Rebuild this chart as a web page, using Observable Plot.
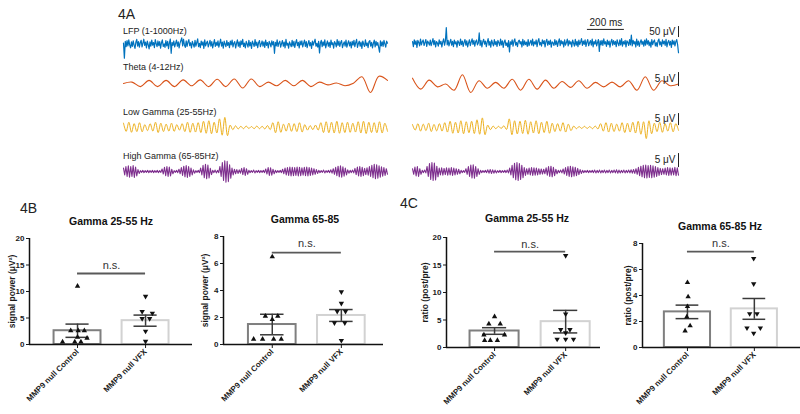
<!DOCTYPE html>
<html><head><meta charset="utf-8">
<script src="https://cdn.jsdelivr.net/npm/d3@7"></script>
<script src="https://cdn.jsdelivr.net/npm/@observablehq/plot@0.6"></script>
<style>
body{margin:0;background:#fff;}
#root{position:relative;width:800px;height:414px;overflow:hidden;font-family:"Liberation Sans",Arial,sans-serif;color:#222;}
.abs{position:absolute;}
.lbl{font-size:9px;white-space:nowrap;transform:translateY(-50%);}
.panel{font-size:14px;transform:translateY(-50%);}
.title{font-size:10.5px;font-weight:bold;color:#111;transform:translate(-50%,-50%);white-space:nowrap;}
</style></head><body><div id="root"></div>
<script>
// ---------- DATA ----------
const traceDurationMs = 1440;
const lfpLeft = [
6,-62,14,-10,18,-6,21,-2,-15,12,-9,17,-3,-18,10,23,-7,13,-12,8,
19,-11,6,24,-4,11,-16,15,-1,-20,12,-8,20,-3,9,-14,22,4,-10,16,
-5,13,-17,8,21,-9,3,-13,18,-6,14,-19,7,25,-40,10,-4,16,-11,5,
20,-8,12,-15,6,18,30,-6,24,-2,-13,17,-9,11,22,-5,8,-16,14,1,
-12,19,-7,9,26,-10,5,-14,16,-3,12,-18,21,-6,7,15,-11,3,19,-8,
13,-15,4,22,-9,10,-5,17,-12,6,24,-7,11,-17,15,2,-10,18,-4,9,
-14,16,-2,20,-11,7,13,-16,5,21,-8,12,-13,17,-1,23,-9,6,-15,14,
3,-12,19,-6,10,-18,15,4,-9,22,-5,11,-14,8,18,-10,2,16,-7,12,
-13,20,-4,9,-16,14,5,-11,17,-2,13,-40,10,-6,21,-9,7,15,-12,4,
18,-8,11,-15,23,-3,6,-17,12,1,-10,19,-7,14,-13,8,22,-5,10,-16,
15,-2,17,-11,6,20,-9,13,-14,4,18,-6,9,-18,16,-3,11,24,-8,5,
-12,14,-38,7,19,-10,12,-5,21,-15,3,16,-8,10,-13,20,-1,8,-17,13,
6,-11,22,-4,15,-9,9,18,-14,2,12,-7,20,-12,5,17,-6,11,-16,14,
-3,19,-10,8,23,-13,4,15,-8,11,-18,16,1,-9,21,-5,7,-14,13,18,
-7,10,-15,5,20,-11,14,-4,9,-13,-35,17,-6,12,-9,19,3,-12,15,6];
const lfpRight = [
9,-14,17,-4,12,-18,14,5,-11,20,-6,8,16,-9,4,18,-13,11,3,-7,
15,-10,6,22,-5,13,-15,9,2,-12,17,-3,10,-16,7,21,-8,12,72,-6,
14,-11,5,19,-7,10,-14,16,-2,8,-17,13,4,-9,20,-5,11,-13,6,18,
-8,12,-15,3,17,-10,7,21,-4,14,-12,9,16,-6,2,48,-9,13,-16,8,
19,-3,11,-14,6,22,-8,10,-17,15,1,-11,18,-5,9,-13,14,4,-10,20,
-6,12,-18,7,16,-9,3,-15,13,-38,8,-4,17,-12,10,21,-7,5,-14,11,
15,-2,9,-16,19,-8,12,-5,6,-13,18,-10,4,14,-7,20,-11,8,-3,16,
-14,10,22,-6,5,-12,17,-1,13,-15,9,19,-8,11,-4,15,-17,7,3,-9,
18,-5,12,-13,6,21,-10,14,-2,9,-16,17,-7,4,20,-11,13,-3,8,-15,
16,2,-12,19,-8,10,-14,15,-5,7,22,-9,11,-4,17,-13,6,18,-10,3,
13,-7,20,-15,9,-3,16,-11,5,18,-36,12,-6,14,-9,21,-2,8,-13,15,
-5,11,-17,7,19,-8,13,-4,10,-14,17,1,-10,16,-6,22,-12,9,-3,14,
-15,12,5,-9,18,-6,38,-11,14,-2,9,-16,20,-7,11,-13,6,17,-4,10,
-12,15,-8,21,-3,13,-10,7,-17,18,-5,9,16,-11,4,-14,12,20,-6,8,
-13,17,-2,11,-9,19,-15,6,14,-7,10,-18,16,-4,12,-11,8,18,-5,-42];
const thetaLeft = [0,0.5,-1.1,1.1,-1.1,1.1,-1.1,1.3,-0.8,1.3,-1.1,1.5,-1.1,1.6,-1.6,1.6,-1.1,0.5,-0.8,1.1,-0.8,1.1,-1.1,0.5,-0.5,0.2,-0.8,0.1,2.4,-3.2,2.6,1.1];
const thetaRight = [1.9,-2.0,1.2,-1.2,-0.2,-2.4,3.1,-3.2,1.0,-1.7,0.4,-1.7,1.5,-2.4,1.5,-2.0,1.2,-1.7,0.7,-1.4,1.0,-1.7,0.4,-1.2,0.5,-1.2,1.0,-2.4,2.4,-2.4,1.0,-0.8,-0.2];
const lowGammaLeft = [1.8,-1.6,2.2,-2.0,1.6,-1.7,2.0,-1.8,1.2,-1.3,1.6,-1.5,2.2,-2.1,1.8,-1.7,1.4,-1.5,1.8,-1.6,1.2,-1.1,1.6,-1.7,2.2,-2.0,1.8,-1.9,2.0,-2.1,2.6,-2.4,2.8,-2.6,2.2,-2.3,3.6,-3.2,4.2,-3.4,1.0,-0.9,0.7,-0.6,0.5,-0.5,0.6,-0.4,0.4,-0.5,0.6,-0.5,0.5,-0.6,0.8,-0.9,2.0,-2.2,2.4,-2.0,1.4,-1.5,1.8,-1.6,1.6,-1.7,2.0,-1.9,1.2,-1.1,0.8,-0.9,1.0,-1.1,2.0,-2.1,2.4,-2.2,2.2,-2.3,2.6,-2.4,2.0,-2.1,2.2,-2.0,1.8,-1.9,2.4,-2.3,2.6,-2.5,2.2,-2.1,2.0,-2.2,2.4,-2.3,1.8,-1.6];
const lowGammaRight = [1.2,-1.1,1.6,-1.5,1.4,-1.3,1.8,-1.7,1.3,-1.4,1.6,-1.5,2.0,-1.9,2.6,-2.4,2.2,-2.3,2.8,-2.6,2.4,-2.2,2.6,-2.5,3.2,-2.8,4.0,-3.0,1.0,-0.9,0.6,-0.5,0.5,-0.4,0.7,-0.8,3.6,-3.0,2.8,-2.7,2.6,-2.5,3.0,-2.8,2.4,-2.3,2.8,-2.6,2.2,-2.1,2.6,-2.4,1.8,-1.7,1.6,-1.5,2.0,-1.9,1.4,-1.3,0.6,-0.5,0.4,-0.4,0.5,-0.4,0.4,-0.5,0.6,-0.6,1.6,-1.5,2.0,-1.9,1.8,-1.7,1.4,-1.5,2.0,-2.1,1.8,-1.9,2.2,-2.3,2.6,-2.8,2.4,-4.6,2.8,-2.6,1.8,-1.7,2.2,-2.0,1.6,-1.5,2.0,-1.8,1.6,-1.2];
const highGammaLeft = [
1.2,-1.2,1.8,-1.8,2.0,-2.0,1.8,-1.8,2.1,-2.1,1.6,-1.6,0.7,-0.7,
0.3,-0.3,0.4,-0.4,0.3,-0.3,0.4,-0.4,0.3,-0.3,0.4,-0.4,0.3,-0.3,0.4,-0.4,0.3,-0.3,
0.9,-0.9,1.5,-1.5,1.8,-1.8,1.6,-1.6,0.8,-0.8,
0.3,-0.3,0.4,-0.4,
0.8,-0.8,1.4,-1.4,1.9,-1.9,2.1,-2.1,1.8,-1.8,1.2,-1.2,0.6,-0.6,
0.3,-0.3,0.4,-0.4,
1.2,-1.2,2.2,-2.2,2.6,-2.6,2.3,-2.3,1.1,-1.1,
0.4,-0.4,0.5,-0.5,0.4,-0.4,
1.8,-1.8,3.2,-3.2,3.8,-3.8,3.6,-3.6,2.4,-2.4,
1.2,-1.2,0.8,-0.8,0.7,-0.7,0.6,-0.6,
1.1,-1.1,1.4,-1.4,1.0,-1.0,
0.4,-0.4,0.3,-0.3,0.5,-0.5,0.3,-0.3,0.4,-0.4,0.3,-0.3,0.4,-0.4,
0.9,-0.9,1.4,-1.4,1.3,-1.3,0.8,-0.8,
0.4,-0.4,0.3,-0.3,0.4,-0.4,
0.8,-0.8,1.2,-1.2,1.4,-1.4,1.6,-1.6,1.5,-1.5,1.4,-1.4,1.6,-1.6,1.5,-1.5,1.3,-1.3,1.5,-1.5,1.6,-1.6,1.4,-1.4,1.2,-1.2,1.0,-1.0,0.7,-0.7,
0.4,-0.4,0.3,-0.3,0.5,-0.5,0.3,-0.3,0.4,-0.4,0.6,-0.6,
1.0,-1.0,1.5,-1.5,1.9,-1.9,2.0,-2.0,1.7,-1.7,1.2,-1.2,0.6,-0.6,
0.4,-0.4,0.5,-0.5,
1.1,-1.1,1.6,-1.6,1.8,-1.8,1.5,-1.5,1.1,-1.1,
1.3,-1.3,1.8,-1.8,2.2,-2.2,2.6,-2.6,2.4,-2.4,2.0,-2.0,1.7,-1.7,1.4,-1.4,1.0,-1.0];
const highGammaRight = [
1.0,-1.0,1.6,-1.6,1.8,-1.8,1.0,-1.0,
0.4,-0.4,0.5,-0.5,
1.8,-1.8,2.8,-2.8,3.2,-3.2,3.0,-3.0,1.9,-1.9,
1.2,-1.2,1.3,-1.3,1.1,-1.1,1.3,-1.3,1.2,-1.2,1.4,-1.4,1.2,-1.2,1.0,-1.0,0.8,-0.8,
0.4,-0.4,0.3,-0.3,
1.0,-1.0,1.8,-1.8,2.3,-2.3,2.4,-2.4,1.8,-1.8,1.0,-1.0,
0.4,-0.4,0.3,-0.3,0.4,-0.4,0.6,-0.6,0.7,-0.7,0.6,-0.6,0.5,-0.5,0.3,-0.3,0.4,-0.4,0.3,-0.3,0.4,-0.4,0.5,-0.5,
1.2,-1.2,2.2,-2.2,2.9,-2.9,3.2,-3.2,2.8,-2.8,2.2,-2.2,1.4,-1.4,
1.0,-1.0,1.2,-1.2,1.4,-1.4,1.3,-1.3,1.2,-1.2,1.0,-1.0,0.9,-0.9,0.8,-0.8,
1.3,-1.3,1.8,-1.8,1.9,-1.9,1.5,-1.5,0.8,-0.8,
0.4,-0.4,0.5,-0.5,
0.9,-0.9,1.4,-1.4,1.8,-1.8,1.9,-1.9,1.7,-1.7,1.5,-1.5,1.1,-1.1,0.7,-0.7,
0.4,-0.4,0.3,-0.3,0.4,-0.4,0.3,-0.3,0.4,-0.4,0.5,-0.5,0.4,-0.4,0.5,-0.5,0.4,-0.4,0.5,-0.5,0.4,-0.4,0.5,-0.5,0.4,-0.4,0.5,-0.5,0.6,-0.6,0.5,-0.5,0.4,-0.4,0.5,-0.5,0.4,-0.4,0.5,-0.5,0.6,-0.6,0.7,-0.7,
1.0,-1.0,1.5,-1.5,1.9,-1.9,2.2,-2.2,2.3,-2.3,2.1,-2.1,2.2,-2.2,2.0,-2.0,1.8,-1.8,1.4,-1.4,1.1,-1.1,
1.0,-1.0,1.2,-1.2,1.4,-1.4,1.3,-1.3,1.2,-1.2,1.5,-1.5,1.3,-1.3];
const traceLabels = ["LFP (1-1000Hz)", "Theta (4-12Hz)", "Low Gamma (25-55Hz)", "High Gamma (65-85Hz)"];
// scale bars (µV / ms)
const lfpBar = [27, 77], thetaBar = [-1.1, 3.9], lowGammaBar = [0.8, 5.8], highGammaBar = [1.4, 6.4];
const timeBar = [947, 1147];

const groups = ["MMP9 null Control", "MMP9 null VFX"];
const b1Mean = [2.6, 4.5], b1Sem = [1.25, 1.05];
const b1Ctrl = [11, 2.6, 2.6, 2.6, 1.4, 1.2, 0.5, 0.5, 0.5], b1CtrlJit = [0, -0.1, 0.01, 0.1, 0, 0.14, -0.22, -0.04, 0.05];
const b1Vfx = [9.1, 6.2, 5.9, 4.9, 4.9, 2.5, 0.6], b1VfxJit = [0, -0.05, 0.1, -0.05, 0.06, 0, 0];
const b2Mean = [1.48, 2.15], b2Sem = [0.76, 0.44];
const b2Ctrl = [6.5, 2.1, 2.1, 1.85, 0.4, 0.4, 0.4, 0.4], b2CtrlJit = [0, -0.1, 0.08, 0, -0.27, -0.14, 0.02, 0.13];
const b2Vfx = [3.9, 3.05, 2.45, 2.45, 1.6, 1.6, 0.3], b2VfxJit = [0, 0, -0.06, 0.06, -0.1, 0.05, 0];
const c1Mean = [3.0, 4.7], c1Sem = [0.6, 2.05];
const c1Ctrl = [5.6, 4.3, 4.3, 2.3, 2.3, 1.3, 1.3, 1.3], c1CtrlJit = [0, -0.08, 0.08, -0.15, 0.14, -0.14, -0.06, 0.04];
const c1Vfx = [16.7, 6.1, 3.25, 3.25, 2.65, 1.5, 1.5, 1.5], c1VfxJit = [0, 0, -0.07, 0.06, 0, -0.12, 0, 0.11];
const c2Mean = [2.74, 2.97], c2Sem = [0.52, 0.8];
const c2Ctrl = [5.0, 3.9, 3.15, 2.35, 1.67, 1.28], c2CtrlJit = [0, 0.01, 0, -0.01, 0.04, -0.035];
const c2Vfx = [6.85, 4.9, 2.6, 2.6, 1.5, 1.5, 1.1], c2VfxJit = [-0.01, -0.01, -0.07, 0.04, -0.11, 0.09, -0.01];
const nsLabel = "n.s.";

// ---------- HELPERS ----------
const root = document.getElementById("root");
const FONT = '"Liberation Sans", Arial, sans-serif';
function place(node, left, top) {
  const d = document.createElement("div");
  d.className = "abs"; d.style.left = left + "px"; d.style.top = top + "px";
  d.appendChild(node); root.appendChild(d); return d;
}
function html(text, cls, left, top) {
  const d = document.createElement("div");
  d.className = "abs " + cls; d.textContent = text;
  d.style.left = left + "px"; d.style.top = top + "px";
  root.appendChild(d);
}
const colors = {lfp: "#0072BD", theta: "#D95319", lg: "#EDB120", hg: "#7E2F8E"};

function trace(values, o) {
  const n = values.length;
  const data = values.map((v, i) => ({t: i * traceDurationMs / (n - 1), v}));
  const yTop = (o.center - o.top) / o.k, yBottom = (o.center - (o.top + o.height)) / o.k;
  const mr = o.marginRight || 0;
  const svg = Plot.plot({
    width: o.width + mr, height: o.height,
    marginTop: 0, marginBottom: 0, marginLeft: 0, marginRight: mr,
    x: {domain: [0, traceDurationMs], axis: null},
    y: {domain: [yBottom, yTop], axis: null},
    style: {background: "transparent", overflow: "visible", fontFamily: FONT, fontSize: "10px"},
    marks: [
      Plot.line(data, {x: "t", y: "v", stroke: o.color, strokeWidth: o.sw || 1, curve: o.curve || "linear"}),
      ...(o.extra || [])
    ]
  });
  place(svg, o.left, o.top);
}
function vBar(bar, label) {
  return [
    Plot.ruleX([traceDurationMs], {y1: bar[0], y2: bar[1], stroke: "#222", strokeWidth: 1}),
    Plot.text([label], {x: traceDurationMs, y: (bar[0] + bar[1]) / 2 + (bar[1] - bar[0]) * 0.05, text: d => d, textAnchor: "end", dx: -3, fill: "#222", fontSize: 10})
  ];
}

const downTriangle = {
  draw(context, size) {
    const y = -Math.sqrt(size / (Math.sqrt(3) * 3));
    context.moveTo(0, -y * 2);
    context.lineTo(-Math.sqrt(3) * y, y);
    context.lineTo(Math.sqrt(3) * y, y);
    context.closePath();
  }
};

function barChart(c) {
  const bars = groups.map((g, i) => ({pos: i + 1, mean: c.mean[i], sem: c.sem[i]}));
  const ctrl = c.ctrl.map((v, i) => ({x: 1 + c.ctrlJit[i], v}));
  const vfx = c.vfx.map((v, i) => ({x: 2 + c.vfxJit[i], v}));
  const hw = 0.345, cap = 0.17;
  const svg = Plot.plot({
    width: c.width, height: c.height,
    marginLeft: c.mL, marginRight: c.mR, marginTop: c.mT, marginBottom: c.mB,
    style: {background: "transparent", overflow: "visible", fontFamily: FONT, fontSize: "8px", fontWeight: "bold", color: "#1a1a1a"},
    x: {domain: c.xDomain, ticks: [1, 2], tickFormat: i => groups[i - 1], tickRotate: -45, tickSize: 4, tickPadding: 2, label: null},
    y: {domain: [0, c.yMax], ticks: c.yTicks, tickSize: 3, tickPadding: 2, label: null},
    marks: [
      Plot.rectY(bars.filter(d => d.pos === 1), {x1: d => d.pos - hw, x2: d => d.pos + hw, y: "mean", fill: "white", stroke: "#7f7f7f", strokeWidth: 2}),
      Plot.rectY(bars.filter(d => d.pos === 2), {x1: d => d.pos - hw, x2: d => d.pos + hw, y: "mean", fill: "white", stroke: "#d2d2d2", strokeWidth: 2}),
      Plot.ruleX(bars, {x: "pos", y1: d => d.mean - d.sem, y2: d => d.mean + d.sem, stroke: "#3a3a3a", strokeWidth: 1.5}),
      Plot.ruleY(bars, {y: d => d.mean + d.sem, x1: d => d.pos - cap, x2: d => d.pos + cap, stroke: "#3a3a3a", strokeWidth: 1.5}),
      Plot.ruleY(bars, {y: d => d.mean - d.sem, x1: d => d.pos - cap, x2: d => d.pos + cap, stroke: "#3a3a3a", strokeWidth: 1.5}),
      Plot.dot(ctrl, {x: "x", y: "v", symbol: "triangle", r: 2, fill: "#111", stroke: "none"}),
      Plot.dot(vfx, {x: "x", y: "v", symbol: downTriangle, r: 2, fill: "#111", stroke: "none"}),
      Plot.ruleX([c.xDomain[0]], {y1: 0, y2: c.yMax, stroke: "#111", strokeWidth: 1.5}),
      Plot.ruleY([0], {stroke: "#111", strokeWidth: 1.5}),
      Plot.ruleY([c.nsY], {x1: 1, x2: 2, stroke: "#595959", strokeWidth: 1.8}),
      Plot.text([nsLabel], {x: 1.5, y: c.nsTextY, text: d => d, fontSize: 11, fontWeight: "normal", fill: "#333"}),
      Plot.text([c.yLabel], {frameAnchor: "left", textAnchor: "middle", rotate: -90, dx: c.labelDx, text: d => d, fontSize: 8.5, fontWeight: "bold", fill: "#1a1a1a"})
    ]
  });
  place(svg, c.left, c.top);
  html(c.title, "title", c.titleX, c.titleY);
}

// ---------- PANEL 4A ----------
html("4A", "panel", 118, 14);
const labelY = [31, 67, 112, 156];
traceLabels.forEach((t, i) => html(t, "lbl", 123, labelY[i]));

const L = 123, LW = 264, R = 412, RW = 266;
trace(lfpLeft, {left: L, width: LW, top: 28, height: 34, center: 44, k: 0.22, color: colors.lfp, sw: 1.2});
trace(lfpRight, {left: R, width: RW, top: 10, height: 54, center: 43, k: 0.22, color: colors.lfp, sw: 1.2, marginRight: 4,
  extra: [
    ...vBar(lfpBar, "50 μV"),
    Plot.ruleY([64], {x1: timeBar[0], x2: timeBar[1], stroke: "#222", strokeWidth: 1}),
    Plot.text(["200 ms"], {x: (timeBar[0] + timeBar[1]) / 2, y: 95, text: d => d, fill: "#222", fontSize: 10})
  ]});
trace(thetaLeft, {left: L, width: LW, top: 70, height: 28, center: 83, k: 2.8, color: colors.theta, curve: "catmull-rom", sw: 1.1});
trace(thetaRight, {left: R, width: RW, top: 68, height: 30, center: 83, k: 2.8, color: colors.theta, curve: "catmull-rom", sw: 1.1, marginRight: 4,
  extra: vBar(thetaBar, "5 μV")});
trace(lowGammaLeft, {left: L, width: LW, top: 108, height: 36, center: 127, k: 2.4, color: colors.lg, curve: "catmull-rom", sw: 1});
trace(lowGammaRight, {left: R, width: RW, top: 108, height: 36, center: 127, k: 2.4, color: colors.lg, curve: "catmull-rom", sw: 1, marginRight: 4,
  extra: vBar(lowGammaBar, "5 μV")});
trace(highGammaLeft, {left: L, width: LW, top: 146, height: 40, center: 171, k: 2.8, color: colors.hg, sw: 1.1});
trace(highGammaRight, {left: R, width: RW, top: 146, height: 40, center: 171, k: 2.8, color: colors.hg, sw: 1.1, marginRight: 4,
  extra: vBar(highGammaBar, "5 μV")});

// ---------- PANELS 4B / 4C ----------
html("4B", "panel", 20, 208);
html("4C", "panel", 400, 203);
barChart({left: 0, top: 230, width: 200, height: 184, mL: 29, mR: 8, mT: 8, mB: 70, xDomain: [0.294, 2.69],
  yMax: 20, yTicks: [0, 5, 10, 15, 20], yLabel: "signal power (μV²)", labelDx: -17,
  mean: b1Mean, sem: b1Sem, ctrl: b1Ctrl, ctrlJit: b1CtrlJit, vfx: b1Vfx, vfxJit: b1VfxJit,
  nsY: 13.4, nsTextY: 14.9, title: "Gamma 25-55 Hz", titleX: 111, titleY: 221});
barChart({left: 190, top: 228, width: 200, height: 186, mL: 33, mR: 7, mT: 8, mB: 70, xDomain: [0.294, 2.61],
  yMax: 8, yTicks: [0, 2, 4, 6, 8], yLabel: "signal power (μV²)", labelDx: -18,
  mean: b2Mean, sem: b2Sem, ctrl: b2Ctrl, ctrlJit: b2CtrlJit, vfx: b2Vfx, vfxJit: b2VfxJit,
  nsY: 6.8, nsTextY: 7.5, title: "Gamma 65-85", titleX: 305, titleY: 219});
barChart({left: 400, top: 229, width: 205, height: 185, mL: 46, mR: 5, mT: 8, mB: 67, xDomain: [0.324, 2.49],
  yMax: 20, yTicks: [0, 5, 10, 15, 20], yLabel: "ratio (post/pre)", labelDx: -21,
  mean: c1Mean, sem: c1Sem, ctrl: c1Ctrl, ctrlJit: c1CtrlJit, vfx: c1Vfx, vfxJit: c1VfxJit,
  nsY: 17.45, nsTextY: 18.8, title: "Gamma 25-55 Hz", titleX: 527, titleY: 218});
barChart({left: 600, top: 235, width: 200, height: 179, mL: 42, mR: 0, mT: 8, mB: 67, xDomain: [0.328, 2.69],
  yMax: 8, yTicks: [0, 2, 4, 6, 8], yLabel: "ratio (post/pre)", labelDx: -14,
  mean: c2Mean, sem: c2Sem, ctrl: c2Ctrl, ctrlJit: c2CtrlJit, vfx: c2Vfx, vfxJit: c2VfxJit,
  nsY: 7.38, nsTextY: 8.0, title: "Gamma 65-85 Hz", titleX: 720, titleY: 226});
</script></body></html>
